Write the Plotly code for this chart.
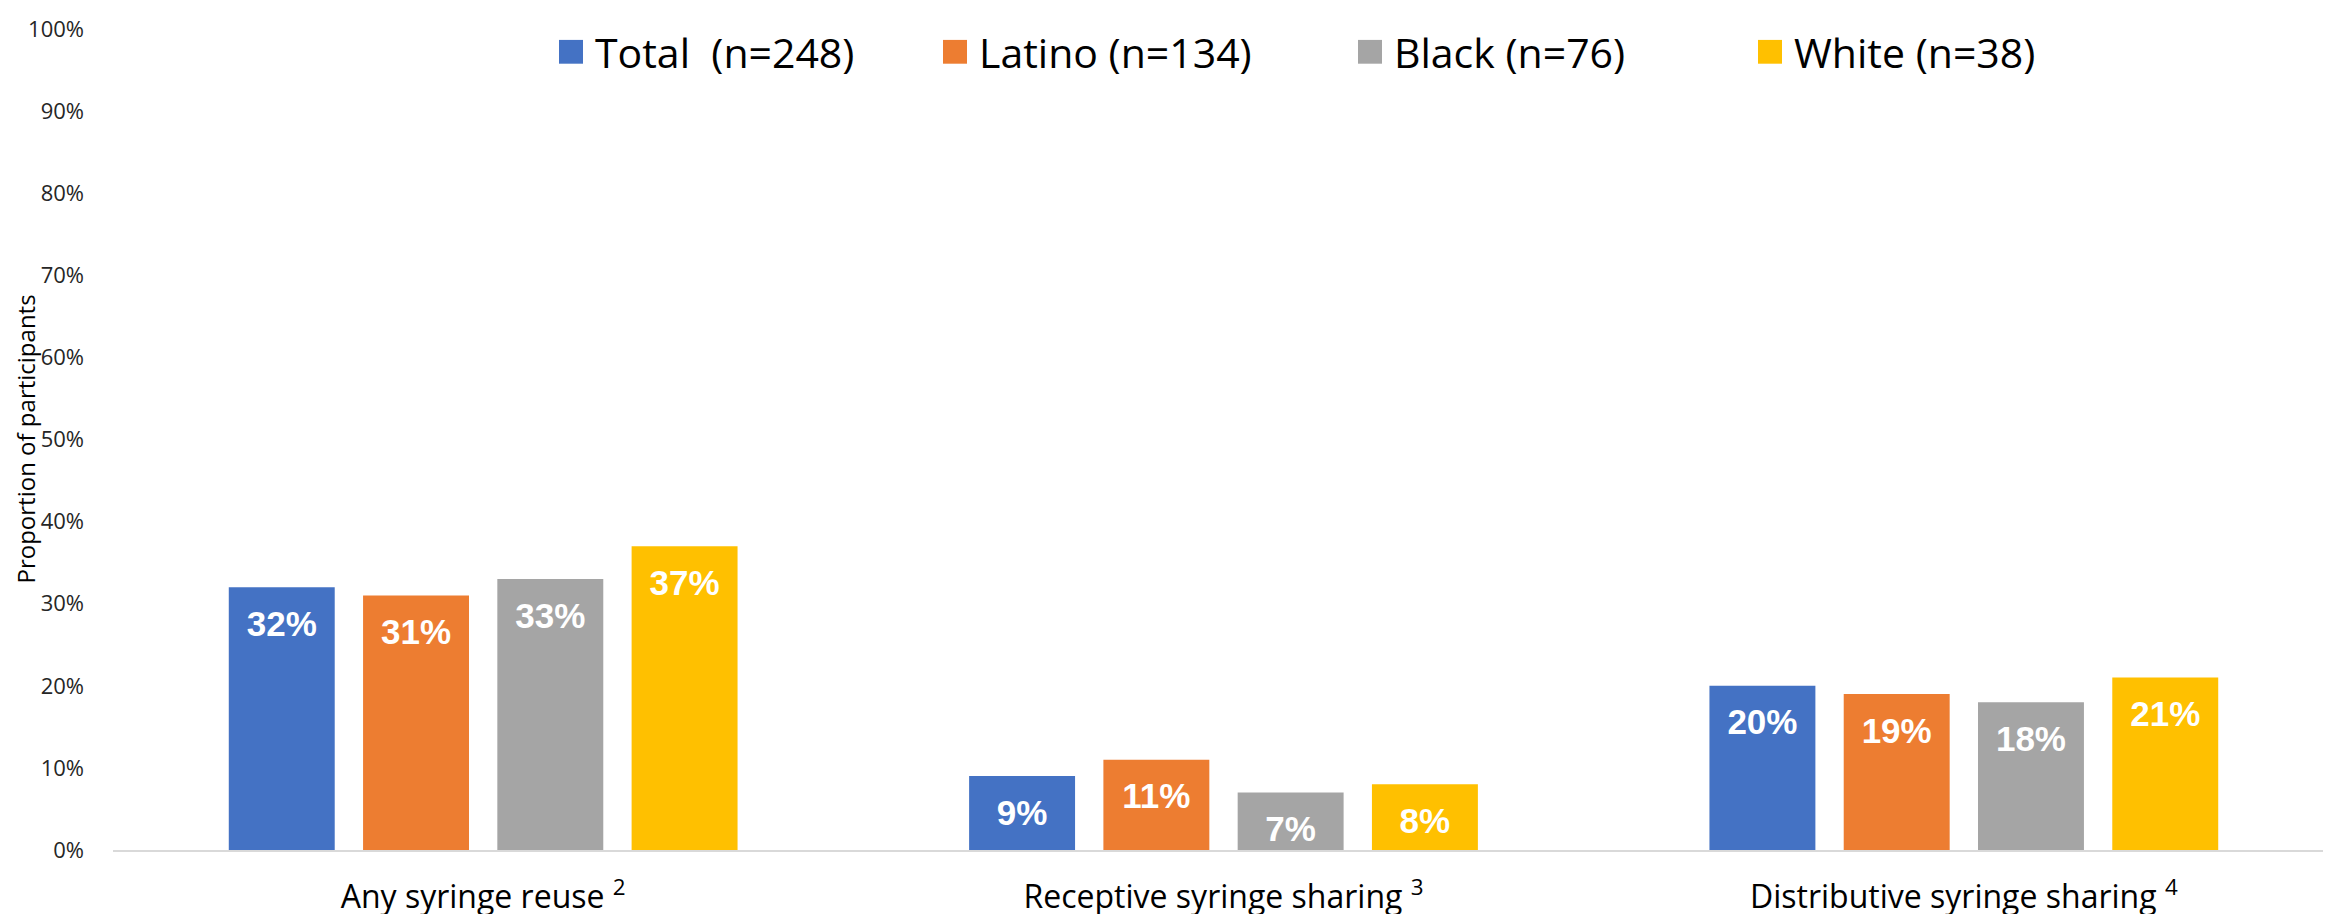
import plotly.graph_objects as go

# ---- data ----
categories = ["Any syringe reuse", "Receptive syringe sharing", "Distributive syringe sharing"]
footnotes = ["2", "3", "4"]
series_names = ["Total  (n=248)", "Latino (n=134)", "Black (n=76)", "White (n=38)"]
total = [0.32, 0.09, 0.20]
latino = [0.31, 0.11, 0.19]
black = [0.33, 0.07, 0.18]
white = [0.37, 0.08, 0.21]
colors = ["#4472C4", "#ED7D31", "#A5A5A5", "#FFC000"]
y_ticks = [0, 0.1, 0.2, 0.3, 0.4, 0.5, 0.6, 0.7, 0.8, 0.9, 1.0]

series_values = [total, latino, black, white]

W, H = 2331, 914
ML, MR, MT, MB = 105, 5, 19, 67
PW, PH = W - ML - MR, H - MT - MB

def px_x(p):
    return (p - ML) / PW

def px_y(p):
    return (H - MB - p) / PH

fig = go.Figure()

for name, vals, col in zip(series_names, series_values, colors):
    fig.add_trace(go.Bar(
        x=categories, y=vals, name=name,
        marker=dict(color=col, line=dict(width=0)),
        showlegend=False, hoverinfo="skip",
    ))

# data labels (white bold, inside near top) positioned through grouped scatter
for name, vals, col in zip(series_names, series_values, colors):
    fig.add_trace(go.Scatter(
        x=categories, y=vals, mode="markers+text",
        marker=dict(size=34, color="rgba(0,0,0,0)"),
        text=[f"{round(v*100)}%" for v in vals],
        textposition="bottom center",
        textfont=dict(family="Liberation Sans", size=35, color="white", weight="bold"),
        showlegend=False, hoverinfo="skip", cliponaxis=False,
    ))

bargap = 0.2745
fig.update_layout(
    width=W, height=H,
    margin=dict(l=ML, r=MR, t=MT, b=MB),
    paper_bgcolor="white", plot_bgcolor="white",
    barmode="group", bargap=bargap, bargroupgap=0.211,
    scattermode="group", scattergap=bargap,
    showlegend=False,
)

fig.update_xaxes(
    tickvals=categories,
    ticktext=[f"{c} <sup>{f}</sup>" for c, f in zip(categories, footnotes)],
    tickfont=dict(family="Open Sans", size=32, color="black"),
    showline=True, linecolor="#D9D9D9", linewidth=2,
    showgrid=False, zeroline=False, ticks="",
    ticklabelstandoff=18,
)
fig.update_yaxes(
    range=[0, 1], tickvals=y_ticks, tickformat=".0%",
    tickfont=dict(family="Open Sans", size=22, color="#262626"),
    showgrid=False, zeroline=False, showline=False, ticks="",
    ticklabelstandoff=28,
)

# y-axis title
fig.add_annotation(
    text="Proportion of participants", textangle=-90,
    xref="paper", yref="paper", x=px_x(17), y=0.5,
    xanchor="center", yanchor="middle", showarrow=False,
    font=dict(family="Open Sans", size=24, color="black"),
)

# custom legend with large squares
legend_sq_left = [551, 935, 1350, 1750]
sq = 24
leg_center = 42
for name, col, left in zip(series_names, colors, legend_sq_left):
    fig.add_shape(
        type="rect", xref="paper", yref="paper",
        x0=px_x(left), x1=px_x(left + sq),
        y0=px_y(leg_center + sq / 2), y1=px_y(leg_center - sq / 2),
        fillcolor=col, line=dict(width=0),
    )
    fig.add_annotation(
        text=name.replace("  ", "\u00a0 "),
        xref="paper", yref="paper", x=px_x(left + sq + 10), y=px_y(leg_center),
        xanchor="left", yanchor="middle", showarrow=False,
        font=dict(family="Open Sans", size=41, color="black"),
    )

fig.write_html("out.html")
